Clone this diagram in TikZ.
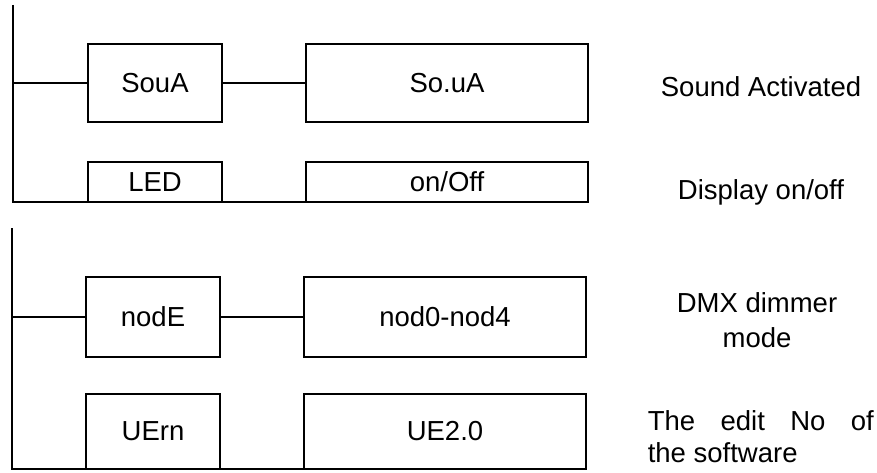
\documentclass[tikz,border=0pt]{standalone}
\usepackage{fontspec}
\setmainfont{Liberation Sans}
\usetikzlibrary{positioning}

\begin{document}
\begin{tikzpicture}[
    x=1pt, y=-1pt,
    line width=1.6pt,
    node distance=84pt,
    every node/.style={font=\fontsize{27.5}{32}\selectfont},
    key/.style={draw, minimum width=134pt, inner sep=0pt, outer sep=0pt},
    value/.style={draw, minimum width=282pt, inner sep=0pt, outer sep=0pt},
    desc/.style={inner sep=0pt, align=center}
]
\useasboundingbox (0,0) rectangle (877,473);

\node[key, minimum height=78pt] (soua) at (155,83) {SouA};
\node[value, minimum height=78pt, right=of soua] (souaval) {So.uA};
\node[key, minimum height=40pt, below=40pt of soua] (led) {LED};
\node[value, minimum height=40pt, right=of led] (ledval) {on/Off};

\node[key, minimum height=80pt] (mode) at (153,317) {nodE};
\node[value, minimum height=80pt, right=of mode] (modeval) {nod0-nod4};
\node[key, minimum height=75pt, below=37pt of mode] (vern) {UErn};
\node[value, minimum height=75pt, right=of vern] (vernval) {UE2.0};

\node[desc, anchor=base] (souadesc) at (761,97) {Sound Activated};
\node[desc, anchor=base] (leddesc) at (761,199) {Display on/off};
\node[desc, anchor=north, font=\fontsize{27.5}{35}\selectfont] (modedesc) at (757,292) {DMX dimmer\\mode};
\node[desc, anchor=north west, text width=226pt, align=justify] (verndesc) at (647,410) {The edit No of\linebreak the software};

\coordinate (top1) at (13,5);
\coordinate (top2) at (12,228);

\draw (top1) |- (ledval.south east);
\draw (soua.west) -- (soua.west -| top1);
\draw (soua) -- (souaval);

\draw (top2) |- (vernval.south east);
\draw (mode.west) -- (mode.west -| top2);
\draw (mode) -- (modeval);
\end{tikzpicture}
\end{document}
